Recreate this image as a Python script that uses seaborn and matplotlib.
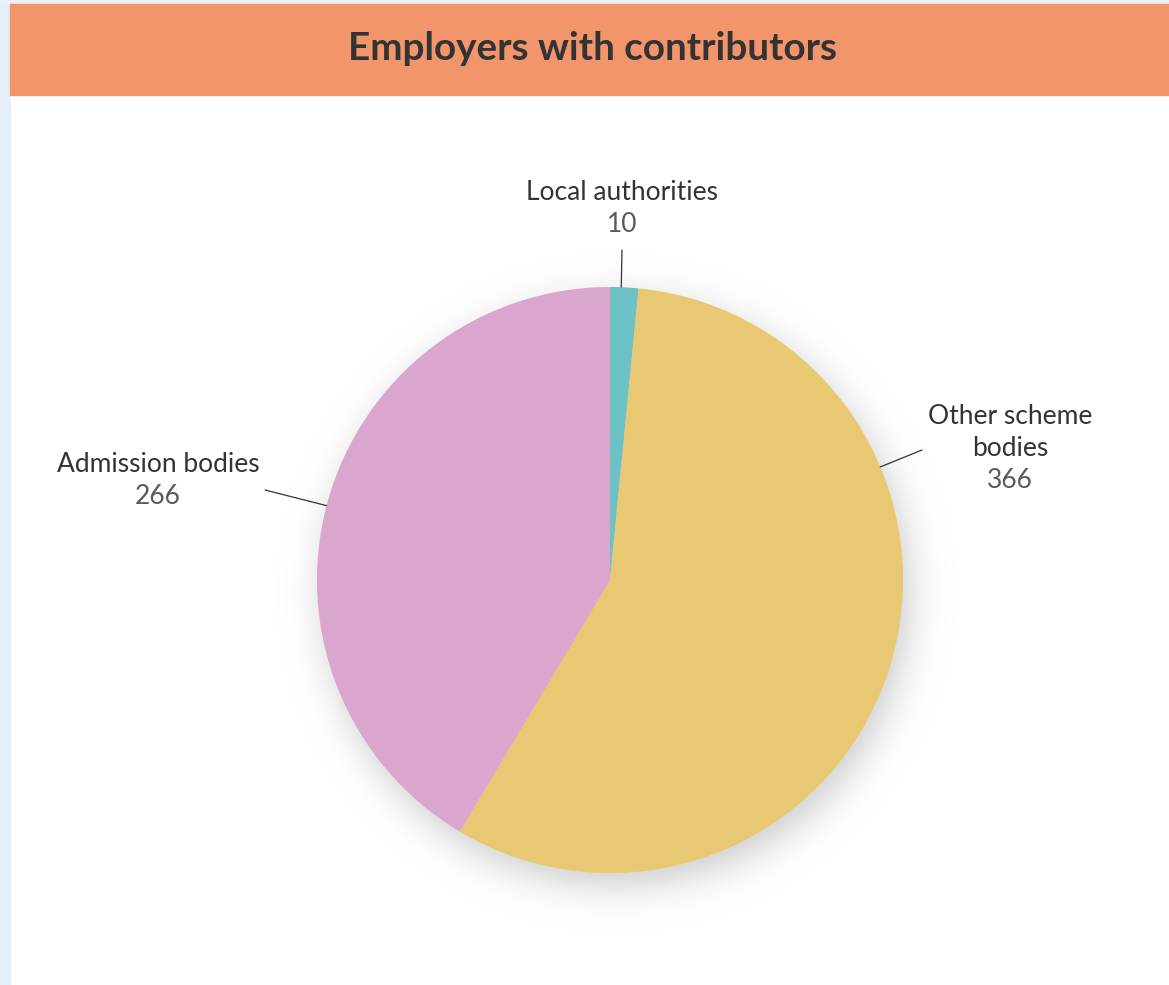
import numpy as np
import matplotlib
matplotlib.use("Agg")
import matplotlib.pyplot as plt
from matplotlib.patches import Rectangle
import seaborn as sns

# Chart data
categories = ["Local authorities", "Other scheme bodies", "Admission bodies"]
label_lines = [["Local authorities"], ["Other scheme", "bodies"], ["Admission bodies"]]
counts = [10, 366, 266]
colors = ["#6EC1C4", "#E8C873", "#DBA6CD"]
title = "Employers with contributors"

sns.set_theme(style="white")
plt.rcParams["font.family"] = ["Lato", "DejaVu Sans"]

W, H, DPI = 1169, 985, 100
fig = plt.figure(figsize=(W / DPI, H / DPI), dpi=DPI)
fig.patch.set_facecolor("white")


def pixel_axes(z):
    ax = fig.add_axes([0, 0, 1, 1])
    ax.set_xlim(0, W)
    ax.set_ylim(H, 0)
    ax.axis("off")
    ax.patch.set_alpha(0)
    ax.set_zorder(z)
    return ax


# Background layer: page strips, header band, pie shadow
bg = pixel_axes(0)
bg.add_patch(Rectangle((0, 0), 10, H, color="#E6EEF7", zorder=1))
bg.add_patch(Rectangle((0, 0), W, 4, color="#EDF1F7", zorder=1))
bg.add_patch(Rectangle((10, 4), W - 10, 91, color="#F2956B", zorder=2))
bg.text(593, 48, title, ha="center", va="center", fontsize=27.8,
        fontweight="bold", color="#333333", zorder=3)

# Pie geometry (pixels)
cx, cy, r = 610, 580, 293

yy, xx = np.mgrid[0:H, 0:W]
d = np.hypot(xx - (cx + 6), yy - (cy + 12))
alpha = 0.30 / (1 + np.exp((d - r) / 11.0))
shadow = np.zeros((H, W, 4))
shadow[..., :3] = 0.35
shadow[..., 3] = alpha
bg.imshow(shadow, extent=(0, W, H, 0), zorder=3, interpolation="bilinear")
bg.set_xlim(0, W)
bg.set_ylim(H, 0)

# Pie
pie_ax = fig.add_axes([(cx - r) / W, (H - cy - r) / H, 2 * r / W, 2 * r / H])
pie_ax.set_zorder(1)
pie_ax.patch.set_alpha(0)
pie_ax.pie(counts, colors=colors, startangle=90, counterclock=False,
           radius=1, wedgeprops=dict(linewidth=0))
pie_ax.set_xlim(-1, 1)
pie_ax.set_ylim(-1, 1)
pie_ax.set_aspect("auto")
pie_ax.axis("off")

# Data labels with connectors
fg = pixel_axes(2)
edge_angles = [87.8, 22.7, 165.3]
elbows = [(622, 250), (922, 450), (265, 490)]
text_pos = [(622, 192), (1010, 417), (158, 464)]
line_gap = 32

for lines, val, ang, elb, tp in zip(label_lines, counts, edge_angles,
                                    elbows, text_pos):
    ex = cx + r * np.cos(np.radians(ang))
    ey = cy - r * np.sin(np.radians(ang))
    fg.plot([ex, elb[0]], [ey, elb[1]], color="#333333", lw=0.9)
    for i, ln in enumerate(lines):
        fg.text(tp[0], tp[1] + i * line_gap, ln, ha="center", va="center",
                fontsize=19, color="#333333")
    fg.text(tp[0], tp[1] + len(lines) * line_gap, str(val), ha="center",
            va="center", fontsize=19, color="#5A5A5A")

fig.savefig("out.png", dpi=DPI)
